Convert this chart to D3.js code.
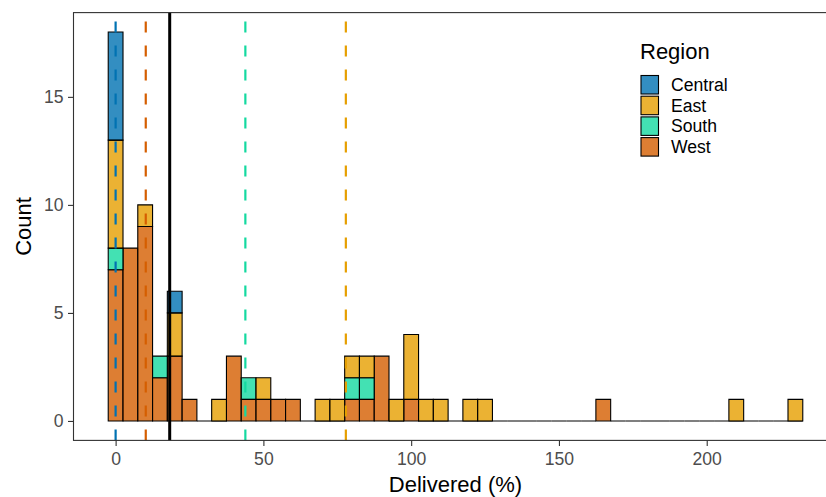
<!DOCTYPE html>
<html>
<head>
<meta charset="utf-8">
<script src="https://cdn.jsdelivr.net/npm/d3@7"></script>
<style>
  body { margin: 0; background: #fff; }
</style>
</head>
<body>
<script>
// bins (centre of each 5-wide bin)
const bins = d3.range(0, 235, 5);

// counts per bin, one array per region
const west    = [7,8,9,2,3,1,0,0,3,1,1,1,1,0,0,0,1,1,3,0,1,0,0,0,0,0,0,0,0,0,0,0,0,1,0,0,0,0,0,0,0,0,0,0,0,0,0];
const south   = [1,0,0,1,0,0,0,0,0,1,0,0,0,0,0,0,1,1,0,0,0,0,0,0,0,0,0,0,0,0,0,0,0,0,0,0,0,0,0,0,0,0,0,0,0,0,0];
const east    = [5,0,1,0,2,0,0,1,0,0,1,0,0,0,1,1,1,1,0,1,3,1,1,0,1,1,0,0,0,0,0,0,0,0,0,0,0,0,0,0,0,0,1,0,0,0,1];
const central = [5,0,0,0,1,0,0,0,0,0,0,0,0,0,0,0,0,0,0,0,0,0,0,0,0,0,0,0,0,0,0,0,0,0,0,0,0,0,0,0,0,0,0,0,0,0,0];

const regions = ["Central", "East", "South", "West"];
const colors  = ["#0072B2", "#E69F00", "#14D9A0", "#D55E00"];

// reference lines (median per region + overall)
const refValues = [0, 77.9, 43.9, 10.2];
const overallRef = 18.3;

const xTicks = [0, 50, 100, 150, 200];
const yTicks = [0, 5, 10, 15];

let width = 826, height = 497;
let pLeft = 73.5, pRight = 837.5, pTop = 12.6, pBottom = 440.4;
const font = "Liberation Sans, Arial, sans-serif";

const x = d3.scaleLinear().domain([-14.25, 244.25]).range([pLeft, pRight]);
const y = d3.scaleLinear().domain([-0.9, 18.9]).range([pBottom, pTop]);
const color = d3.scaleOrdinal().domain(regions).range(colors);

const table = bins.map((b, i) => ({
    bin: b, West: west[i], South: south[i], East: east[i], Central: central[i]
}));

// West at bottom, Central on top
const series = d3.stack().keys(["West", "South", "East", "Central"])(table);

var svg = d3.select("body").append("svg")
    .attr("width", width)
    .attr("height", height)
    .attr("font-family", font);

//bars (empty bins still leave an outline on the baseline)
for (let s of series) {
    s.forEach((d) => {
        if (d[1] - d[0] === 0 && s.key !== "West") return;
        const x0 = x(d.data.bin - 2.5), x1 = x(d.data.bin + 2.5);
        const y0 = y(d[0]), y1 = y(d[1]);
        svg.append("path")
            .attr("d", `M${x0},${y0}H${x1}V${y1}H${x0}Z`)
            .attr("fill", color(s.key))
            .attr("fill-opacity", 0.8)
            .attr("stroke", "#000")
            .attr("stroke-width", 1.1);
    });
}

//dashed lines
regions.forEach((r, i) => {
    svg.append("line")
        .attr("x1", x(refValues[i])).attr("x2", x(refValues[i]))
        .attr("y1", pBottom).attr("y2", pTop)
        .attr("stroke", color(r))
        .attr("stroke-width", 2.2)
        .attr("stroke-dasharray", "11,13");
});

svg.append("line")
    .attr("x1", x(overallRef)).attr("x2", x(overallRef))
    .attr("y1", pBottom).attr("y2", pTop)
    .attr("stroke", "#000")
    .attr("stroke-width", 3);

//panel border
svg.append("rect")
    .attr("x", pLeft).attr("y", pTop)
    .attr("width", pRight - pLeft).attr("height", pBottom - pTop)
    .attr("fill", "none")
    .attr("stroke", "#333333")
    .attr("stroke-width", 1.1);

//axes
const xAxis = svg.append("g")
    .attr("transform", `translate(0,${pBottom})`)
    .call(d3.axisBottom(x).tickValues(xTicks).tickSize(5.5).tickPadding(6.5));
const yAxis = svg.append("g")
    .attr("transform", `translate(${pLeft},0)`)
    .call(d3.axisLeft(y).tickValues(yTicks).tickSize(5.5).tickPadding(4.5));

for (let g of [xAxis, yAxis]) {
    g.select(".domain").remove();
    g.selectAll(".tick line").attr("stroke", "#333333").attr("stroke-width", 1.1);
    g.selectAll(".tick text")
        .attr("fill", "#4D4D4D")
        .attr("font-size", 17.6)
        .attr("font-family", font);
}

svg.append("text")
    .text("Delivered (%)")
    .attr("x", (pLeft + pRight) / 2)
    .attr("y", 491.5)
    .attr("text-anchor", "middle")
    .attr("font-size", 22)
    .attr("fill", "#000");

svg.append("text")
    .text("Count")
    .attr("transform", `translate(30.5,${(pTop + pBottom) / 2}) rotate(-90)`)
    .attr("text-anchor", "middle")
    .attr("font-size", 22)
    .attr("fill", "#000");

//legend
svg.append("text")
    .text("Region")
    .attr("x", 640)
    .attr("y", 58.5)
    .attr("font-size", 22)
    .attr("fill", "#000");

regions.forEach((r, i) => {
    const ky = 75.5 + i * 20.7;
    svg.append("rect")
        .attr("x", 641).attr("y", ky)
        .attr("width", 17.5).attr("height", 18.5)
        .attr("fill", color(r))
        .attr("fill-opacity", 0.8)
        .attr("stroke", "#000")
        .attr("stroke-width", 1.1);
    svg.append("text")
        .text(r)
        .attr("x", 671)
        .attr("y", ky + 15.3)
        .attr("font-size", 17.6)
        .attr("fill", "#000");
});
</script>
</body>
</html>
